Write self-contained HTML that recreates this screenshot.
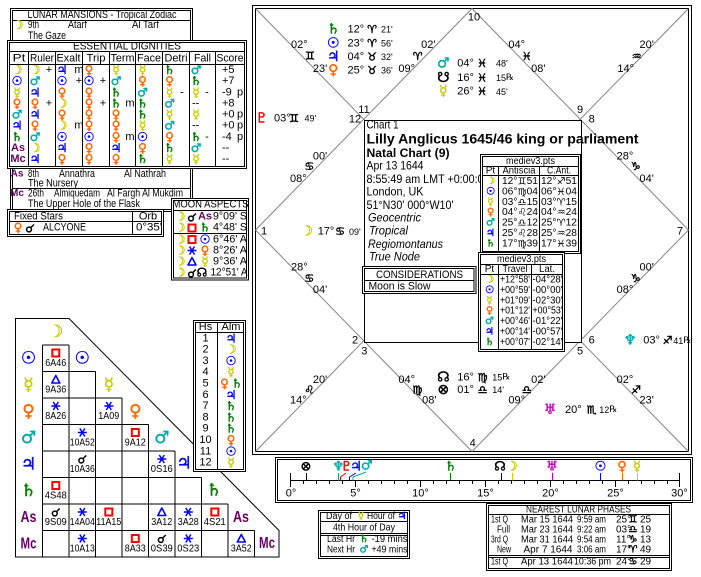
<!DOCTYPE html>
<html><head><meta charset="utf-8">
<style>
html,body{margin:0;padding:0;background:#fff;}
svg{display:block}
text{font-family:"Liberation Sans",sans-serif;font-size:11px;fill:#000;dominant-baseline:central}
.g{font-family:"DejaVu Sans",sans-serif;text-anchor:middle;stroke:currentColor;stroke-width:0.45}
.gf{font-family:"DejaVu Sans",sans-serif}
.m{text-anchor:middle}
.e{text-anchor:end}
.b{font-weight:bold}
.i{font-style:italic}
.Y{fill:#cccc00;color:#cccc00}.B{fill:#0000ff;color:#0000ff}.O{fill:#ff6600;color:#ff6600}.C{fill:#00aaaa;color:#00aaaa}.G{fill:#008000;color:#008000}.P{fill:#660066;color:#660066}.R{fill:#ff0000;color:#ff0000}.M{fill:#cc00cc;color:#cc00cc}
.s9{font-size:9px}.s10{font-size:10px}.s12{font-size:12px}.s13{font-size:13px}.s14{font-size:14px}.s16{font-size:16px}.s17{font-size:17px}
.ln{stroke:#000;stroke-width:1;fill:none}
.bx{stroke:#000;stroke-width:1;fill:#fff}
.gr{stroke:#858585;stroke-width:1;fill:none}
</style></head><body>
<svg width="701" height="577" viewBox="0 0 701 577" xmlns="http://www.w3.org/2000/svg" style="color:#000">
<defs>
<g id="sq"><rect x="-3.5" y="-3.5" width="7" height="7" fill="none" stroke="#f00" stroke-width="2"/></g>
<g id="tr"><path d="M0,-4L4,3.5H-4Z" fill="none" stroke="#00f" stroke-width="1.6" stroke-linejoin="round"/></g>
<g id="sx"><path d="M-4.5,0H4.5M-2.5,-4L2.5,4M2.5,-4L-2.5,4" stroke="#00f" stroke-width="1.5" fill="none"/></g>
<g id="cj"><circle cx="-1" cy="1.5" r="2.4" fill="none" stroke="#000" stroke-width="1.5"/><path d="M0.8,-0.5L4,-3.5" stroke="#000" stroke-width="1.5"/></g>
</defs>

<!-- LUNAR MANSIONS -->
<rect class="bx" x="10.5" y="8.5" width="182" height="203"/>
<rect class="ln" x="12.5" y="10.5" width="178" height="199"/>
<path class="ln" d="M12.5,20.5H190.5M12.5,188.5H190.5"/>
<text x="102" y="15" class="m" textLength="149" lengthAdjust="spacingAndGlyphs">LUNAR MANSIONS - Tropical Zodiac</text>
<text x="18" y="25" class="g Y s12">☽</text>
<text x="28" y="25" textLength="11" lengthAdjust="spacingAndGlyphs">9th</text>
<text x="68" y="25" textLength="19" lengthAdjust="spacingAndGlyphs">Atarf</text>
<text x="132" y="25" textLength="27" lengthAdjust="spacingAndGlyphs">Al Tarf</text>
<text x="28" y="36" textLength="38" lengthAdjust="spacingAndGlyphs">The Gaze</text>
<text x="17" y="174" class="b P m s10">As</text>
<text x="28" y="174" textLength="11" lengthAdjust="spacingAndGlyphs">8th</text>
<text x="59" y="174" textLength="36" lengthAdjust="spacingAndGlyphs">Annathra</text>
<text x="124" y="174" textLength="42" lengthAdjust="spacingAndGlyphs">Al Nathrah</text>
<text x="28" y="183.5" textLength="50" lengthAdjust="spacingAndGlyphs">The Nursery</text>
<text x="17" y="193.5" class="b P m s10">Mc</text>
<text x="28" y="193.5" textLength="16" lengthAdjust="spacingAndGlyphs">26th</text>
<text x="54" y="193.5" textLength="46" lengthAdjust="spacingAndGlyphs">Almiquedam</text>
<text x="107" y="193.5" textLength="76" lengthAdjust="spacingAndGlyphs">Al Fargh Al Mukdim</text>
<text x="28" y="204" textLength="112" lengthAdjust="spacingAndGlyphs">The Upper Hole of the Flask</text>

<!-- ESSENTIAL DIGNITIES -->
<rect class="bx" x="7.5" y="40.5" width="239" height="128"/>
<rect class="ln" x="9.5" y="42.5" width="235" height="124"/>
<path class="ln" d="M9.5,51.5H244.5M9.5,64.5H244.5M28.5,51.5V166.5M55.5,51.5V166.5M82.5,51.5V166.5M109.5,51.5V166.5M135.5,51.5V166.5M162.5,51.5V166.5M189.5,51.5V166.5M215.5,51.5V166.5"/>
<text x="127" y="46.5" class="m" textLength="108" lengthAdjust="spacingAndGlyphs">ESSENTIAL DIGNITIES</text>
<text x="19" y="58.5" class="m" textLength="13" lengthAdjust="spacingAndGlyphs">Pt</text>
<text x="42" y="58.5" class="m" textLength="24" lengthAdjust="spacingAndGlyphs">Ruler</text>
<text x="68.5" y="58.5" class="m" textLength="24" lengthAdjust="spacingAndGlyphs">Exalt</text>
<text x="96" y="58.5" class="m" textLength="19" lengthAdjust="spacingAndGlyphs">Trip</text>
<text x="122.5" y="58.5" class="m" textLength="24" lengthAdjust="spacingAndGlyphs">Term</text>
<text x="149" y="58.5" class="m" textLength="24" lengthAdjust="spacingAndGlyphs">Face</text>
<text x="176" y="58.5" class="m" textLength="23" lengthAdjust="spacingAndGlyphs">Detri</text>
<text x="202.5" y="58.5" class="m" textLength="17" lengthAdjust="spacingAndGlyphs">Fall</text>
<text x="230" y="58.5" class="m" textLength="27" lengthAdjust="spacingAndGlyphs">Score</text>
<!-- row moon -->
<text x="17" y="70" class="g Y s12">☽</text><text x="35" y="70" class="g Y s12">☽</text><text x="49" y="70" class="m">+</text>
<text x="62" y="70" class="g B s12">♃</text><text x="79" y="70" class="m">m</text>
<text x="89" y="70" class="g O s12">♀</text><text x="116" y="70" class="g Y s12">☿</text><text x="142.5" y="70" class="g Y s12">☿</text>
<text x="169.5" y="70" class="g G s12">♄</text><text x="196" y="70" class="g C s12">♂</text><text x="222" y="70">+5</text>
<!-- row sun -->
<text x="17" y="81.1" class="g B s12">☉</text><text x="35" y="81.1" class="g C s12">♂</text>
<text x="62" y="81.1" class="g B s12">☉</text><text x="79" y="81.1" class="m">+</text>
<text x="89" y="81.1" class="g B s12">☉</text><text x="103" y="81.1" class="m">+</text>
<text x="116" y="81.1" class="g C s12">♂</text><text x="142.5" y="81.1" class="g O s12">♀</text>
<text x="169.5" y="81.1" class="g O s12">♀</text><text x="196" y="81.1" class="g G s12">♄</text><text x="222" y="81.1">+7</text>
<!-- row mercury -->
<text x="17" y="92.3" class="g Y s12">☿</text><text x="35" y="92.3" class="g B s12">♃</text>
<text x="62" y="92.3" class="g O s12">♀</text><text x="89" y="92.3" class="g O s12">♀</text>
<text x="116" y="92.3" class="g G s12">♄</text><text x="142.5" y="92.3" class="g C s12">♂</text>
<text x="169.5" y="92.3" class="g Y s12">☿</text><text x="182" y="92.3" class="m">-</text>
<text x="196" y="92.3" class="g Y s12">☿</text><text x="207" y="92.3" class="m">-</text>
<text x="222" y="92.3">-9</text><text x="240" y="92.3" class="m">p</text>
<!-- row venus -->
<text x="17" y="103.4" class="g O s12">♀</text><text x="35" y="103.4" class="g O s12">♀</text><text x="49" y="103.4" class="m">+</text>
<text x="62" y="103.4" class="g Y s12">☽</text>
<text x="89" y="103.4" class="g O s12">♀</text><text x="103" y="103.4" class="m">+</text>
<text x="116" y="103.4" class="g G s12">♄</text><text x="130" y="103.4" class="m">m</text>
<text x="142.5" y="103.4" class="g G s12">♄</text><text x="169.5" y="103.4" class="g C s12">♂</text>
<text x="192" y="103.4">--</text><text x="222" y="103.4">+8</text>
<!-- row mars -->
<text x="17" y="114.6" class="g C s12">♂</text><text x="35" y="114.6" class="g B s12">♃</text>
<text x="62" y="114.6" class="g O s12">♀</text><text x="89" y="114.6" class="g O s12">♀</text>
<text x="116" y="114.6" class="g O s12">♀</text><text x="142.5" y="114.6" class="g G s12">♄</text>
<text x="169.5" y="114.6" class="g Y s12">☿</text><text x="196" y="114.6" class="g Y s12">☿</text>
<text x="222" y="114.6">+0</text><text x="240" y="114.6" class="m">p</text>
<!-- row jupiter -->
<text x="17" y="125.7" class="g B s12">♃</text><text x="35" y="125.7" class="g O s12">♀</text>
<text x="62" y="125.7" class="g Y s12">☽</text><text x="79" y="125.7" class="m">m</text>
<text x="89" y="125.7" class="g O s12">♀</text><text x="116" y="125.7" class="g O s12">♀</text>
<text x="142.5" y="125.7" class="g Y s12">☿</text><text x="169.5" y="125.7" class="g C s12">♂</text>
<text x="192" y="125.7">--</text><text x="222" y="125.7">+0</text><text x="240" y="125.7" class="m">p</text>
<!-- row saturn -->
<text x="17" y="136.9" class="g G s12">♄</text><text x="35" y="136.9" class="g C s12">♂</text>
<text x="62" y="136.9" class="g B s12">☉</text><text x="89" y="136.9" class="g B s12">☉</text>
<text x="116" y="136.9" class="g O s12">♀</text><text x="130" y="136.9" class="m">m</text>
<text x="142.5" y="136.9" class="g B s12">☉</text><text x="169.5" y="136.9" class="g O s12">♀</text>
<text x="196" y="136.9" class="g G s12">♄</text><text x="207" y="136.9" class="m">-</text>
<text x="222" y="136.9">-4</text><text x="240" y="136.9" class="m">p</text>
<!-- row As -->
<text x="18" y="148" class="b P m">As</text><text x="35" y="148" class="g Y s12">☽</text>
<text x="62" y="148" class="g B s12">♃</text><text x="89" y="148" class="g O s12">♀</text>
<text x="116" y="148" class="g B s12">♃</text><text x="142.5" y="148" class="g O s12">♀</text>
<text x="169.5" y="148" class="g G s12">♄</text><text x="196" y="148" class="g C s12">♂</text>
<text x="222" y="148">--</text>
<!-- row Mc -->
<text x="18" y="159.2" class="b P m">Mc</text><text x="35" y="159.2" class="g B s12">♃</text>
<text x="62" y="159.2" class="g O s12">♀</text><text x="89" y="159.2" class="g O s12">♀</text>
<text x="116" y="159.2" class="g O s12">♀</text><text x="142.5" y="159.2" class="g G s12">♄</text>
<text x="169.5" y="159.2" class="g Y s12">☿</text><text x="196" y="159.2" class="g Y s12">☿</text>
<text x="222" y="159.2">--</text>

<!-- FIXED STARS -->
<rect class="bx" x="7.5" y="209.5" width="156" height="27"/>
<rect class="ln" x="9.5" y="211.5" width="152" height="23"/>
<path class="ln" d="M9.5,221.5H161.5M132.5,211.5V234.5"/>
<text x="14" y="216.5" textLength="49" lengthAdjust="spacingAndGlyphs">Fixed Stars</text>
<text x="148" y="216.5" class="m">Orb</text>
<text x="18" y="227.5" class="g O s12">♀</text>
<use href="#cj" x="30" y="228"/>
<text x="43" y="227.5" textLength="43" lengthAdjust="spacingAndGlyphs">ALCYONE</text>
<text x="136" y="227.5" textLength="26" lengthAdjust="spacingAndGlyphs">0°35'</text>

<!-- MOON ASPECTS -->
<rect class="bx" x="171.5" y="198.5" width="77" height="81.5"/>
<rect class="ln" x="173.5" y="200.5" width="73" height="77.5"/>
<path class="ln" d="M173.5,210.5H246.5M173.5,233.5H246.5"/>
<text x="210.5" y="204.5" class="m" textLength="76" lengthAdjust="spacingAndGlyphs">MOON ASPECTS</text>
<text x="180" y="216.7" class="g Y s12">☽</text><use href="#cj" x="192" y="217"/><text x="205" y="216.7" class="b P m">As</text><text x="213" y="216.7" textLength="34" lengthAdjust="spacingAndGlyphs">9°09' S</text>
<text x="180" y="227.7" class="g Y s12">☽</text><use href="#sq" x="192" y="228"/><text x="205" y="227.7" class="g G s12">♄</text><text x="213" y="227.7" textLength="34" lengthAdjust="spacingAndGlyphs">4°48' S</text>
<text x="180" y="239.3" class="g Y s12">☽</text><use href="#sq" x="192" y="239.5"/><text x="205" y="239.3" class="g B s12">☉</text><text x="213" y="239.3" textLength="34" lengthAdjust="spacingAndGlyphs">6°46' A</text>
<text x="180" y="250.3" class="g Y s12">☽</text><use href="#sx" x="192" y="250.5"/><text x="205" y="250.3" class="g O s12">♀</text><text x="213" y="250.3" textLength="34" lengthAdjust="spacingAndGlyphs">8°26' A</text>
<text x="180" y="261.3" class="g Y s12">☽</text><use href="#tr" x="192" y="261.5"/><text x="205" y="261.3" class="g Y s12">☿</text><text x="213" y="261.3" textLength="34" lengthAdjust="spacingAndGlyphs">9°36' A</text>
<text x="180" y="272.5" class="g Y s12">☽</text><use href="#cj" x="192" y="273"/><text x="202" y="272.5" class="g s12">☊</text><text x="210.5" y="272.5" textLength="37" lengthAdjust="spacingAndGlyphs">12°51' A</text>

<!-- ASPECT GRID -->
<path class="ln" d="M15.5,318.5H69L279,530.5V557H15.5Z"/>
<path class="ln" d="M42.5,345H69M42.5,371.5H95.5M42.5,398H122M42.5,424.5H148.5M42.5,451H175M42.5,477.5H201.5M42.5,504H228M42.5,530.5H254.5M42.5,345V557M69,345V557M95.5,371.5V557M122,398V557M148.5,424.5V557M175,451V557M201.5,477.5V557M228,504V557M254.5,530.5V557"/>
<text x="28.5" y="358.3" class="g B s17">☉</text>
<text x="28.5" y="384.8" class="g Y s17">☿</text>
<text x="28.5" y="411.3" class="g O s17">♀</text>
<text x="28.5" y="437.8" class="g C s17">♂</text>
<text x="28.5" y="464.3" class="g B s17">♃</text>
<text x="28.5" y="490.8" class="g G s17">♄</text>
<text x="28.5" y="517.3" class="b P m s16" textLength="16" lengthAdjust="spacingAndGlyphs">As</text>
<text x="28.5" y="543.8" class="b P m s16" textLength="16" lengthAdjust="spacingAndGlyphs">Mc</text>
<text x="55.8" y="331.8" class="g Y s17">☽</text>
<text x="82.3" y="358.3" class="g B s17">☉</text>
<text x="108.8" y="384.8" class="g Y s17">☿</text>
<text x="135.3" y="411.3" class="g O s17">♀</text>
<text x="161.8" y="437.8" class="g C s17">♂</text>
<text x="184" y="463.5" class="g B s17">♃</text>
<text x="214" y="490.5" class="g G s17">♄</text>
<text x="241" y="517.5" class="b P m s16" textLength="16" lengthAdjust="spacingAndGlyphs">As</text>
<text x="267" y="543.5" class="b P m s16" textLength="16" lengthAdjust="spacingAndGlyphs">Mc</text>
<!-- cells -->
<use href="#sq" x="55.8" y="353"/><text x="55.8" y="363.5" class="m s10" textLength="21" lengthAdjust="spacingAndGlyphs">6A46</text>
<use href="#tr" x="55.8" y="379.5"/><text x="55.8" y="390" class="m s10" textLength="21" lengthAdjust="spacingAndGlyphs">9A36</text>
<use href="#sx" x="55.8" y="406"/><text x="55.8" y="416.5" class="m s10" textLength="21" lengthAdjust="spacingAndGlyphs">8A26</text>
<use href="#sx" x="108.8" y="406"/><text x="108.8" y="416.5" class="m s10" textLength="21" lengthAdjust="spacingAndGlyphs">1A09</text>
<use href="#sx" x="82.3" y="432.5"/><text x="82.3" y="443" class="m s10" textLength="25" lengthAdjust="spacingAndGlyphs">10A52</text>
<use href="#sq" x="135.3" y="432.5"/><text x="135.3" y="443" class="m s10" textLength="21" lengthAdjust="spacingAndGlyphs">9A12</text>
<use href="#cj" x="82.3" y="459"/><text x="82.3" y="469.5" class="m s10" textLength="25" lengthAdjust="spacingAndGlyphs">10A36</text>
<use href="#sx" x="161.8" y="459"/><text x="161.8" y="469.5" class="m s10" textLength="22" lengthAdjust="spacingAndGlyphs">0S16</text>
<use href="#sq" x="55.8" y="485.5"/><text x="55.8" y="496" class="m s10" textLength="22" lengthAdjust="spacingAndGlyphs">4S48</text>
<use href="#cj" x="55.8" y="512"/><text x="55.8" y="522.5" class="m s10" textLength="22" lengthAdjust="spacingAndGlyphs">9S09</text>
<use href="#sx" x="82.3" y="512"/><text x="82.3" y="522.5" class="m s10" textLength="25" lengthAdjust="spacingAndGlyphs">14A04</text>
<use href="#sq" x="108.8" y="512"/><text x="108.8" y="522.5" class="m s10" textLength="25" lengthAdjust="spacingAndGlyphs">11A15</text>
<use href="#tr" x="161.8" y="512"/><text x="161.8" y="522.5" class="m s10" textLength="21" lengthAdjust="spacingAndGlyphs">3A12</text>
<use href="#sx" x="188.3" y="512"/><text x="188.3" y="522.5" class="m s10" textLength="21" lengthAdjust="spacingAndGlyphs">3A28</text>
<use href="#sq" x="214.8" y="512"/><text x="214.8" y="522.5" class="m s10" textLength="22" lengthAdjust="spacingAndGlyphs">4S21</text>
<use href="#sx" x="82.3" y="538.5"/><text x="82.3" y="549" class="m s10" textLength="25" lengthAdjust="spacingAndGlyphs">10A13</text>
<use href="#sq" x="135.3" y="538.5"/><text x="135.3" y="549" class="m s10" textLength="21" lengthAdjust="spacingAndGlyphs">8A33</text>
<use href="#cj" x="161.8" y="538.5"/><text x="161.8" y="549" class="m s10" textLength="22" lengthAdjust="spacingAndGlyphs">0S39</text>
<use href="#sx" x="188.3" y="538.5"/><text x="188.3" y="549" class="m s10" textLength="22" lengthAdjust="spacingAndGlyphs">0S23</text>
<use href="#tr" x="241.3" y="538.5"/><text x="241.3" y="549" class="m s10" textLength="21" lengthAdjust="spacingAndGlyphs">3A52</text>

<!-- HS / ALM -->
<rect class="bx" x="193.5" y="320.5" width="52" height="151"/>
<rect class="ln" x="195.5" y="322.5" width="48" height="147"/>
<path class="ln" d="M195.5,332.5H243.5M217.5,322.5V469.5"/>
<text x="205.5" y="327" class="m">Hs</text><text x="231" y="327" class="m">Alm</text>
<text x="205.5" y="338.3" class="m">1</text><text x="231" y="338.3" class="g B s12">♃</text>
<text x="205.5" y="349.6" class="m">2</text><text x="231" y="349.6" class="g Y s12">☽</text>
<text x="205.5" y="360.9" class="m">3</text><text x="231" y="360.9" class="g B s12">☉</text>
<text x="205.5" y="372.2" class="m">4</text><text x="231" y="372.2" class="g Y s12">☿</text>
<text x="205.5" y="383.5" class="m">5</text><text x="224.5" y="383.5" class="g O s12">♀</text><text x="237" y="383.5" class="g G s12">♄</text>
<text x="205.5" y="394.8" class="m">6</text><text x="231" y="394.8" class="g B s12">♃</text>
<text x="205.5" y="406.1" class="m">7</text><text x="231" y="406.1" class="g G s12">♄</text>
<text x="205.5" y="417.4" class="m">8</text><text x="231" y="417.4" class="g G s12">♄</text>
<text x="205.5" y="428.7" class="m">9</text><text x="231" y="428.7" class="g G s12">♄</text>
<text x="205.5" y="440" class="m">10</text><text x="231" y="440" class="g O s12">♀</text>
<text x="205.5" y="451.3" class="m">11</text><text x="231" y="451.3" class="g B s12">☉</text>
<text x="205.5" y="462.6" class="m">12</text><text x="231" y="462.6" class="g Y s12">☿</text>

<!-- MAIN CHART -->
<rect class="bx" x="252.5" y="5.5" width="439" height="449"/>
<rect class="ln" x="255.5" y="8.5" width="433" height="443"/>
<path class="gr" d="M255.5,8.5L688.5,451.5M688.5,8.5L255.5,451.5M472,8.5L255.5,230L472,451.5L688.5,230Z"/>
<!-- cusp labels -->
<text x="299.3" y="45" class="m">02°</text><text x="310" y="56" class="g">♊</text><text x="320" y="69" class="m">23'</text>
<text x="428.3" y="45" class="m">02'</text><text x="417.7" y="56.7" class="g">♈</text><text x="406.7" y="69" class="m">09°</text>
<text x="474" y="17.3" class="m">10</text>
<text x="516.7" y="45" class="m">04°</text><text x="526.7" y="56.7" class="g">♓</text><text x="538.3" y="69" class="m">08'</text>
<text x="646.7" y="45" class="m">20'</text><text x="636.7" y="56.7" class="g">♒</text><text x="625.7" y="69" class="m">14°</text>
<text x="364" y="110" class="m">11</text><text x="355" y="119.3" class="m">12</text>
<text x="580" y="110" class="m">9</text><text x="591.7" y="119.3" class="m">8</text>
<text x="320" y="156.7" class="m">00'</text><text x="309.3" y="166.7" class="g">♋</text><text x="298.3" y="179" class="m">08°</text>
<text x="625" y="156.7" class="m">28°</text><text x="635.7" y="166.7" class="g">♑</text><text x="646.7" y="179" class="m">04'</text>
<text x="264" y="231.7" class="m">1</text><text x="680" y="231.7" class="m">7</text>
<text x="299.3" y="267.7" class="m">28°</text><text x="309.3" y="278.3" class="g">♋</text><text x="320" y="290" class="m">04'</text>
<text x="646.7" y="267.7" class="m">00'</text><text x="635.7" y="278.3" class="g">♑</text><text x="625" y="290" class="m">08°</text>
<text x="355" y="340.7" class="m">2</text><text x="364.3" y="351.7" class="m">3</text>
<text x="591.7" y="340.7" class="m">6</text><text x="580" y="351.7" class="m">5</text>
<text x="320" y="380" class="m">20'</text><text x="309.3" y="390" class="g">♌</text><text x="298.3" y="400.7" class="m">14°</text>
<text x="406.7" y="380" class="m">04°</text><text x="417.3" y="390" class="g">♍</text><text x="429.3" y="400.7" class="m">08'</text>
<text x="538.3" y="380" class="m">02'</text><text x="526.7" y="390" class="g">♎</text><text x="516.7" y="400.7" class="m">09°</text>
<text x="625" y="380" class="m">02°</text><text x="636" y="390" class="g">♐</text><text x="646.7" y="400.7" class="m">23'</text>
<text x="472.7" y="443.3" class="m">4</text>
<!-- planets -->
<text x="333.3" y="29.3" class="g G s14">♄</text><text x="347.5" y="29.3">12°</text><text x="372" y="29.3" class="g">♈</text><text x="381" y="29.5" class="s9">21'</text>
<text x="333.3" y="43.3" class="g B s14">☉</text><text x="347.5" y="43.3">23°</text><text x="372" y="43.3" class="g">♈</text><text x="381" y="43.5" class="s9">56'</text>
<text x="333.3" y="57" class="g B s14">♃</text><text x="347.5" y="57">04°</text><text x="372" y="57" class="g">♉</text><text x="381" y="57.2" class="s9">32'</text>
<text x="333.3" y="70.3" class="g O s14">♀</text><text x="347.5" y="70.3">25°</text><text x="372" y="70.3" class="g">♉</text><text x="381" y="70.5" class="s9">36'</text>
<text x="443.3" y="63.3" class="g C s14">♂</text><text x="457.3" y="63.3">04°</text><text x="482" y="63.3" class="g">♓</text><text x="496" y="63.5" class="s9">48'</text>
<text x="443.3" y="78" class="g s14">☋</text><text x="457.3" y="78">16°</text><text x="482" y="78" class="g">♓</text><text x="496" y="78.2" class="s9">15<tspan class="gf">℞</tspan></text>
<text x="443.3" y="91.7" class="g Y s14">☿</text><text x="457.3" y="91.7">26°</text><text x="482" y="91.7" class="g">♓</text><text x="496" y="91.9" class="s9">45'</text>
<text x="261.7" y="118.3" class="g R s14">♇</text><text x="274" y="118.3">03°</text><text x="294" y="118.3" class="g">♊</text><text x="304.5" y="118.5" class="s9">49'</text>
<text x="306.7" y="231.7" class="g Y s14">☽</text><text x="317.7" y="231.7">17°</text><text x="340" y="231.7" class="g">♋</text><text x="349" y="231.9" class="s9">09'</text>
<text x="630" y="340.7" class="g C s14">♆</text><text x="643.3" y="340.7">03°</text><text x="667.5" y="340.7" class="g">♐</text><text x="673.3" y="340.9" class="s9">41<tspan class="gf">℞</tspan></text>
<text x="443.3" y="377.3" class="g s14">☊</text><text x="457.3" y="377.3">16°</text><text x="482.5" y="377.3" class="g">♍</text><text x="492.3" y="377.5" class="s9">15<tspan class="gf">℞</tspan></text>
<text x="443.3" y="390" class="g s14">⊗</text><text x="457.3" y="390">01°</text><text x="482.5" y="390" class="g">♎</text><text x="492.3" y="390.2" class="s9">14'</text>
<text x="550" y="410" class="g M s14">♅</text><text x="565" y="410">20°</text><text x="591.7" y="410" class="g">♏</text><text x="599.3" y="410.2" class="s9">12<tspan class="gf">℞</tspan></text>

<!-- center box -->
<rect class="bx" x="364.5" y="120.5" width="217" height="222"/>
<text x="366.5" y="124.5" class="s12" textLength="32" lengthAdjust="spacingAndGlyphs">Chart 1</text>
<text x="366.5" y="138.5" class="b s14" textLength="272" lengthAdjust="spacingAndGlyphs">Lilly Anglicus 1645/46 king or parliament</text>
<text x="366.5" y="153" class="b s12" textLength="83" lengthAdjust="spacingAndGlyphs">Natal Chart (9)</text>
<text x="366.5" y="165.5" class="s12" textLength="57" lengthAdjust="spacingAndGlyphs">Apr 13 1644</text>
<text x="366.5" y="178.8" class="s12" textLength="123" lengthAdjust="spacingAndGlyphs">8:55:49 am  LMT +0:00:00</text>
<text x="366.5" y="191.7" class="s12" textLength="57" lengthAdjust="spacingAndGlyphs">London, UK</text>
<text x="366.5" y="205" class="s12" textLength="87" lengthAdjust="spacingAndGlyphs">51°N30' 000°W10'</text>
<text x="368" y="217.7" class="s12 i" textLength="53" lengthAdjust="spacingAndGlyphs">Geocentric</text>
<text x="369" y="230.7" class="s12 i" textLength="39" lengthAdjust="spacingAndGlyphs">Tropical</text>
<text x="368" y="244" class="s12 i" textLength="75" lengthAdjust="spacingAndGlyphs">Regiomontanus</text>
<text x="369" y="256.7" class="s12 i" textLength="51" lengthAdjust="spacingAndGlyphs">True Node</text>

<!-- mediev box 1 -->
<rect class="bx" x="480.5" y="154.5" width="100" height="99"/>
<rect class="ln" x="482.5" y="156.5" width="96" height="95"/>
<path class="ln" d="M482.5,166.5H578.5M482.5,175.5H578.5M498.5,166.5V251.5M539.5,166.5V251.5"/>
<text x="530.5" y="161.3" class="m s10" textLength="49" lengthAdjust="spacingAndGlyphs">mediev3.pts</text>
<text x="490.5" y="171" class="m s10">Pt</text>
<text x="519" y="171" class="m s10" textLength="33" lengthAdjust="spacingAndGlyphs">Antiscia</text>
<text x="559" y="171" class="m s10" textLength="24" lengthAdjust="spacingAndGlyphs">C.Ant.</text>
<text x="490.5" y="181.7" class="g Y s10">☽</text><text x="502" y="181.7" class="s10" textLength="36" lengthAdjust="spacingAndGlyphs">12°<tspan class="gf">♊</tspan>51</text><text x="541" y="181.7" class="s10" textLength="36" lengthAdjust="spacingAndGlyphs">12°<tspan class="gf">♐</tspan>51</text>
<text x="490.5" y="192" class="g B s10">☉</text><text x="502" y="192" class="s10" textLength="36" lengthAdjust="spacingAndGlyphs">06°<tspan class="gf">♍</tspan>04</text><text x="541" y="192" class="s10" textLength="36" lengthAdjust="spacingAndGlyphs">06°<tspan class="gf">♓</tspan>04</text>
<text x="490.5" y="202.3" class="g Y s10">☿</text><text x="502" y="202.3" class="s10" textLength="36" lengthAdjust="spacingAndGlyphs">03°<tspan class="gf">♎</tspan>15</text><text x="541" y="202.3" class="s10" textLength="36" lengthAdjust="spacingAndGlyphs">03°<tspan class="gf">♈</tspan>15</text>
<text x="490.5" y="212.7" class="g O s10">♀</text><text x="502" y="212.7" class="s10" textLength="36" lengthAdjust="spacingAndGlyphs">04°<tspan class="gf">♌</tspan>24</text><text x="541" y="212.7" class="s10" textLength="36" lengthAdjust="spacingAndGlyphs">04°<tspan class="gf">♒</tspan>24</text>
<text x="490.5" y="223" class="g C s10">♂</text><text x="502" y="223" class="s10" textLength="36" lengthAdjust="spacingAndGlyphs">25°<tspan class="gf">♎</tspan>12</text><text x="541" y="223" class="s10" textLength="36" lengthAdjust="spacingAndGlyphs">25°<tspan class="gf">♈</tspan>12</text>
<text x="490.5" y="233.5" class="g B s10">♃</text><text x="502" y="233.5" class="s10" textLength="36" lengthAdjust="spacingAndGlyphs">25°<tspan class="gf">♌</tspan>28</text><text x="541" y="233.5" class="s10" textLength="36" lengthAdjust="spacingAndGlyphs">25°<tspan class="gf">♒</tspan>28</text>
<text x="490.5" y="244" class="g G s10">♄</text><text x="502" y="244" class="s10" textLength="36" lengthAdjust="spacingAndGlyphs">17°<tspan class="gf">♍</tspan>39</text><text x="541" y="244" class="s10" textLength="36" lengthAdjust="spacingAndGlyphs">17°<tspan class="gf">♓</tspan>39</text>

<!-- mediev box 2 -->
<rect class="bx" x="478.5" y="252.5" width="86" height="99"/>
<rect class="ln" x="480.5" y="254.5" width="82" height="95"/>
<path class="ln" d="M480.5,264.5H562.5M480.5,274.5H562.5M498.5,264.5V349.5M531.5,264.5V349.5"/>
<text x="521.5" y="259.5" class="m s10" textLength="49" lengthAdjust="spacingAndGlyphs">mediev3.pts</text>
<text x="489.5" y="269.3" class="m s10">Pt</text>
<text x="515" y="269.3" class="m s10" textLength="25" lengthAdjust="spacingAndGlyphs">Travel</text>
<text x="547" y="269.3" class="m s10" textLength="16" lengthAdjust="spacingAndGlyphs">Lat.</text>
<text x="489.5" y="280" class="g Y s10">☽</text><text x="500" y="280" class="s10" textLength="30" lengthAdjust="spacingAndGlyphs">+12°58'</text><text x="532.5" y="280" class="s10" textLength="30" lengthAdjust="spacingAndGlyphs">-04°28'</text>
<text x="489.5" y="290.4" class="g B s10">☉</text><text x="500" y="290.4" class="s10" textLength="30" lengthAdjust="spacingAndGlyphs">+00°59'</text><text x="532.5" y="290.4" class="s10" textLength="30" lengthAdjust="spacingAndGlyphs">-00°00'</text>
<text x="489.5" y="300.8" class="g Y s10">☿</text><text x="500" y="300.8" class="s10" textLength="30" lengthAdjust="spacingAndGlyphs">+01°09'</text><text x="532.5" y="300.8" class="s10" textLength="30" lengthAdjust="spacingAndGlyphs">-02°30'</text>
<text x="489.5" y="311.2" class="g O s10">♀</text><text x="500" y="311.2" class="s10" textLength="30" lengthAdjust="spacingAndGlyphs">+01°12'</text><text x="532.5" y="311.2" class="s10" textLength="30" lengthAdjust="spacingAndGlyphs">+00°53'</text>
<text x="489.5" y="321.6" class="g C s10">♂</text><text x="500" y="321.6" class="s10" textLength="30" lengthAdjust="spacingAndGlyphs">+00°46'</text><text x="532.5" y="321.6" class="s10" textLength="30" lengthAdjust="spacingAndGlyphs">-01°22'</text>
<text x="489.5" y="332" class="g B s10">♃</text><text x="500" y="332" class="s10" textLength="30" lengthAdjust="spacingAndGlyphs">+00°14'</text><text x="532.5" y="332" class="s10" textLength="30" lengthAdjust="spacingAndGlyphs">-00°57'</text>
<text x="489.5" y="342.4" class="g G s10">♄</text><text x="500" y="342.4" class="s10" textLength="30" lengthAdjust="spacingAndGlyphs">+00°07'</text><text x="532.5" y="342.4" class="s10" textLength="30" lengthAdjust="spacingAndGlyphs">-02°14'</text>

<!-- considerations -->
<rect class="bx" x="362.5" y="266.5" width="113.5" height="27"/>
<rect class="ln" x="364.5" y="268.5" width="109.5" height="23"/>
<path class="ln" d="M364.5,280.5H474"/>
<text x="419.5" y="275" class="m" textLength="87" lengthAdjust="spacingAndGlyphs">CONSIDERATIONS</text>
<text x="368.5" y="286.5" textLength="62" lengthAdjust="spacingAndGlyphs">Moon is Slow</text>

<!-- TIMELINE -->
<rect class="bx" x="275.5" y="457.5" width="417" height="45"/>
<rect class="ln" x="277.5" y="459.5" width="413" height="41"/>
<path class="ln" d="M290.5,480.5H679.5M290.5,473V487M679.5,473V487M355.5,480.5V487M420.5,480.5V487M485.5,480.5V487M550.5,480.5V487M615.5,480.5V487M303.5,480.5V484M316.5,480.5V484M329.5,480.5V484M342.5,480.5V484M368.5,480.5V484M381.5,480.5V484M394.5,480.5V484M407.5,480.5V484M433.5,480.5V484M446.5,480.5V484M459.5,480.5V484M472.5,480.5V484M498.5,480.5V484M511.5,480.5V484M524.5,480.5V484M537.5,480.5V484M563.5,480.5V484M576.5,480.5V484M589.5,480.5V484M602.5,480.5V484M628.5,480.5V484M641.5,480.5V484M654.5,480.5V484M667.5,480.5V484"/>
<text x="291" y="493.5" class="m">0°</text>
<text x="355.5" y="493.5" class="m">5°</text>
<text x="420.5" y="493.5" class="m">10°</text>
<text x="485.5" y="493.5" class="m">15°</text>
<text x="550.5" y="493.5" class="m">20°</text>
<text x="615.5" y="493.5" class="m">25°</text>
<text x="679.5" y="493.5" class="m">30°</text>
<path d="M306.5,473V480.5" stroke="#000" fill="none"/>
<path d="M338.5,473V480.5" stroke="#00aaaa" fill="none"/>
<path d="M346,473L340.5,477V480.5" stroke="#f00" fill="none"/>
<path d="M356,473L349.5,477V480.5" stroke="#00f" fill="none"/>
<path d="M366,472L353,477V480.5" stroke="#00aaaa" fill="none"/>
<path d="M450.5,473V480.5" stroke="#008000" fill="none"/>
<path d="M501.5,473V480.5" stroke="#000" fill="none"/>
<path d="M512.5,473V480.5" stroke="#cccc00" fill="none"/>
<path d="M552.5,473V480.5" stroke="#cc00cc" fill="none"/>
<path d="M600.5,473V480.5" stroke="#00f" fill="none"/>
<path d="M622.5,473V480.5" stroke="#ff6600" fill="none"/>
<path d="M637.5,473V480.5" stroke="#cccc00" fill="none"/>
<text x="306" y="467" class="g s13">⊗</text>
<text x="338.3" y="467" class="g C s13">♆</text>
<text x="346.5" y="467" class="g R s13">♇</text>
<text x="356" y="467" class="g B s13">♃</text>
<text x="366.7" y="466" class="g C s13">♂</text>
<text x="450.7" y="467" class="g G s13">♄</text>
<text x="500" y="467" class="g s13">☊</text>
<text x="512" y="467" class="g Y s13">☽</text>
<text x="552" y="467" class="g M s13">♅</text>
<text x="600.5" y="467" class="g B s13">☉</text>
<text x="622" y="467" class="g O s13">♀</text>
<text x="637" y="467" class="g Y s13">☿</text>

<!-- DAY / HOUR -->
<rect class="bx" x="318.5" y="510.5" width="91" height="48"/>
<rect class="ln" x="320.5" y="512.5" width="87" height="44"/>
<path class="ln" d="M320.5,521.5H407.5M320.5,533.5H407.5M320.5,535.5H407.5"/>
<text x="326" y="516.5" class="s10" textLength="26" lengthAdjust="spacingAndGlyphs">Day of</text>
<text x="361" y="516.5" class="g Y s10">☿</text>
<text x="367" y="516.5" class="s10" textLength="28" lengthAdjust="spacingAndGlyphs">Hour of</text>
<text x="402" y="516.5" class="g B s10">♃</text>
<text x="364" y="528" class="m s10" textLength="62" lengthAdjust="spacingAndGlyphs">4th Hour of Day</text>
<text x="327" y="539.5" class="s10" textLength="28" lengthAdjust="spacingAndGlyphs">Last Hr</text>
<text x="364" y="539.5" class="g G s10">♄</text>
<text x="371.5" y="539.5" class="s10" textLength="36" lengthAdjust="spacingAndGlyphs">-19 mins</text>
<text x="327" y="550" class="s10" textLength="28" lengthAdjust="spacingAndGlyphs">Next Hr</text>
<text x="364" y="550" class="g C s10">♂</text>
<text x="371.5" y="550" class="s10" textLength="36" lengthAdjust="spacingAndGlyphs">+49 mins</text>

<!-- LUNAR PHASES -->
<rect class="bx" x="486.5" y="503.5" width="185" height="67"/>
<rect class="ln" x="488.5" y="505.5" width="181" height="63"/>
<path class="ln" d="M488.5,514.5H669.5M488.5,555.5H669.5M488.5,557.5H669.5"/>
<text x="578.5" y="509.8" class="m s10" textLength="105" lengthAdjust="spacingAndGlyphs">NEAREST LUNAR PHASES</text>
<text x="491" y="520" class="s10" textLength="17" lengthAdjust="spacingAndGlyphs">1st Q</text><text x="521" y="520" class="s10" textLength="52" lengthAdjust="spacingAndGlyphs">Mar 15 1644</text><text x="577" y="520" class="s10" textLength="29" lengthAdjust="spacingAndGlyphs">9:59 am</text><text x="616" y="520" class="s10">25°</text><text x="633" y="520" class="g s10">♊</text><text x="640" y="520" class="s10">25</text>
<text x="497" y="530" class="s10" textLength="13" lengthAdjust="spacingAndGlyphs">Full</text><text x="521" y="530" class="s10" textLength="52" lengthAdjust="spacingAndGlyphs">Mar 23 1644</text><text x="577" y="530" class="s10" textLength="29" lengthAdjust="spacingAndGlyphs">9:22 am</text><text x="616" y="530" class="s10">03°</text><text x="633" y="530" class="g s10">♎</text><text x="640" y="530" class="s10">19</text>
<text x="491" y="540" class="s10" textLength="17" lengthAdjust="spacingAndGlyphs">3rd Q</text><text x="521" y="540" class="s10" textLength="52" lengthAdjust="spacingAndGlyphs">Mar 31 1644</text><text x="577" y="540" class="s10" textLength="29" lengthAdjust="spacingAndGlyphs">9:54 am</text><text x="616" y="540" class="s10">11°</text><text x="633" y="540" class="g s10">♑</text><text x="640" y="540" class="s10">13</text>
<text x="497" y="550" class="s10" textLength="14" lengthAdjust="spacingAndGlyphs">New</text><text x="523.5" y="550" class="s10" textLength="49" lengthAdjust="spacingAndGlyphs">Apr 7 1644</text><text x="577" y="550" class="s10" textLength="29" lengthAdjust="spacingAndGlyphs">3:06 am</text><text x="616" y="550" class="s10">17°</text><text x="633" y="550" class="g s10">♈</text><text x="640" y="550" class="s10">49</text>
<text x="491" y="562" class="s10" textLength="17" lengthAdjust="spacingAndGlyphs">1st Q</text><text x="521" y="562" class="s10" textLength="52" lengthAdjust="spacingAndGlyphs">Apr 13 1644</text><text x="574" y="562" class="s10" textLength="37" lengthAdjust="spacingAndGlyphs">10:36 pm</text><text x="616" y="562" class="s10">24°</text><text x="633" y="562" class="g s10">♋</text><text x="640" y="562" class="s10">29</text>
</svg>
</body></html>
